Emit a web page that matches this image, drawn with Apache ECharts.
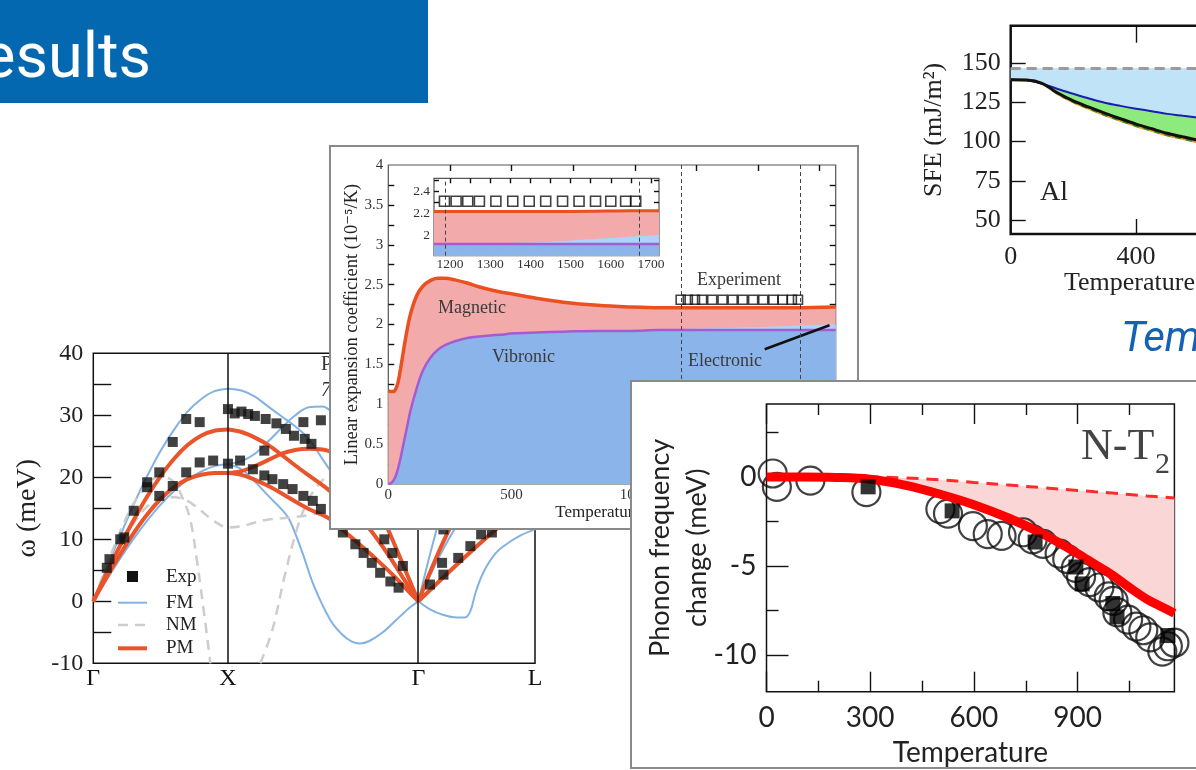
<!DOCTYPE html>
<html>
<head>
<meta charset="utf-8">
<title>Results</title>
<script src="https://cdn.jsdelivr.net/npm/echarts@6.0.0/dist/echarts.min.js"></script>
<style>
html, body { margin: 0; padding: 0; width: 1196px; height: 770px; overflow: hidden; background: #fff; }
.box { position: absolute; }
#bg { left: 0; top: 0; width: 1196px; height: 770px; z-index: 0; }
#sfe { left: 900px; top: 10px; width: 600px; height: 300px; z-index: 1; }
#disp { left: 0; top: 330px; width: 560px; height: 380px; z-index: 1; }
#alpha { left: 329px; top: 145px; width: 530px; height: 385px; z-index: 2; background: #fff; border: 2px solid #8a8a8a; box-sizing: border-box; }
#phon { left: 630px; top: 380px; width: 600px; height: 389px; z-index: 3; background: #fff; border: 2px solid #8a8a8a; box-sizing: border-box; }
</style>
</head>
<body>
<div id="bg" class="box"></div>
<div id="sfe" class="box"></div>
<div id="disp" class="box"></div>
<div id="alpha" class="box"></div>
<div id="phon" class="box"></div>
<script>
// ---------- SFE of Al (top right) ----------
var sfeT = [0, 50, 100, 150, 200, 250, 300, 350, 400, 450, 500, 550, 600, 650];
var sfeBlue = [139.5, 139.2, 137.0, 133.6, 130.5, 127.5, 124.8, 122.8, 121.0, 119.4, 117.7, 116.5, 115.3, 114.0];
var sfeBlack = [139.5, 139.3, 137.2, 131.0, 126.0, 122.0, 118.2, 114.6, 111.2, 108.2, 105.3, 103.0, 100.8, 98.8];
var sfeOrange = [139.5, 139.3, 137.0, 130.5, 125.2, 121.0, 117.0, 113.4, 110.0, 107.0, 104.1, 101.8, 99.6, 97.6];
var sfeRef = 147;
var sfeYTicks = [50, 75, 100, 125, 150];
var sfeXTicks = [400, 800];
var sfeXLabels = [0, 400, 800];

// ---------- phonon dispersion (left) ----------
var kTicks = [0, 1, 2.414, 3.28];
var kLabels = ['Γ', 'X', 'Γ', 'L'];
var dispYTicks = [-5, 0, 5, 10, 15, 20, 25, 30, 35];
var dispYLabels = [-10, 0, 10, 20, 30, 40];
var expGX = [[0.10, 5.4], [0.12, 6.8], [0.20, 10.0], [0.23, 10.3], [0.30, 14.6], [0.40, 19.2], [0.40, 18.4],
  [0.49, 20.8], [0.49, 17.0], [0.59, 25.7], [0.59, 18.6], [0.69, 29.4], [0.69, 20.8], [0.79, 28.9],
  [0.79, 22.4], [0.89, 22.7], [1.0, 31.0], [1.0, 22.2]];
var expXG = [[1.05, 30.3], [1.10, 30.6], [1.15, 30.2], [1.20, 29.9], [1.28, 29.4], [1.36, 28.7], [1.43, 27.8],
  [1.49, 26.7], [1.57, 26.2], [1.62, 25.4], [1.56, 28.9], [1.69, 29.2], [1.27, 24.3], [1.09, 22.7],
  [1.185, 21.3], [1.27, 20.3], [1.33, 19.7], [1.41, 18.9], [1.48, 18.1], [1.56, 17.0], [1.63, 16.2],
  [1.69, 14.9], [1.853, 11.1], [1.946, 9.2], [2.007, 7.8], [2.068, 6.2], [2.130, 4.6], [2.206, 3.2],
  [2.267, 2.2], [2.161, 10.0], [2.221, 7.8], [2.299, 5.7]];
var expGL = [[2.50, 2.7], [2.60, 4.3], [2.71, 7.0], [2.80, 8.9], [2.88, 10.8], [2.96, 11.1], [2.59, 6.2], [2.60, 11.6]];
var fmGX1 = [[0, 0], [0.1, 5.4], [0.2, 10.6], [0.3, 15.6], [0.4, 20.2], [0.5, 24.3], [0.6, 27.7], [0.7, 30.6], [0.8, 32.6], [0.9, 33.9], [1, 34.3]];
var fmGX2 = [[0, 0], [0.1, 3.5], [0.2, 6.9], [0.3, 10.1], [0.4, 13.0], [0.5, 15.6], [0.6, 17.8], [0.7, 19.6], [0.8, 20.9], [0.9, 21.8], [1, 22.1]];
var fmXG1 = [[1, 34.3], [1.1, 34.0], [1.2, 33.0], [1.3, 31.4], [1.4, 29.8], [1.5, 28.2], [1.6, 26.2], [1.7, 23.0], [1.8, 19.8], [1.9, 16.6], [2.0, 13.5], [2.1, 10.3], [2.2, 7.0], [2.3, 3.6], [2.414, 0]];
var fmXG2 = [[1, 22.1], [1.1, 22.6], [1.2, 23.8], [1.3, 25.8], [1.4, 28.0], [1.5, 30.0], [1.6, 31.3], [1.7, 31.4], [1.8, 29.8], [1.9, 26.4], [2.0, 21.8], [2.1, 16.6], [2.2, 11.2], [2.3, 5.6], [2.414, 0]];
var fmXG3 = [[1, 22.1], [1.1, 21.3], [1.2, 19.3], [1.3, 17.0], [1.4, 14.8], [1.46, 13.0], [1.55, 8.0], [1.64, 2.4], [1.76, -3.0], [1.85, -5.4], [1.92, -6.5], [1.98, -6.8], [2.05, -6.4], [2.15, -5.0], [2.25, -3.0], [2.35, -1.0], [2.414, 0]];
var fmGL1 = [[2.414, 0], [2.5, -1.3], [2.6, -2.2], [2.7, -2.6], [2.76, -2.6], [2.8, -1.6], [2.84, 1.5], [2.9, 4.8], [2.99, 7.8], [3.08, 9.4], [3.17, 10.6], [3.28, 11.6]];
var fmGL2 = [[2.414, 0], [2.56, 6.8], [2.7, 12.2], [2.9, 17.8], [3.1, 21.0], [3.28, 22.0]];
var fmGL3 = [[2.414, 0], [2.53, 10.0], [2.65, 19.0], [2.85, 27.0], [3.05, 31.0], [3.28, 32.5]];
var pmGX1 = [[0, 0], [0.1, 4.6], [0.2, 9.0], [0.3, 13.1], [0.4, 16.9], [0.5, 20.2], [0.6, 23.0], [0.7, 25.2], [0.8, 26.7], [0.9, 27.5], [1, 27.7]];
var pmGX2 = [[0, 0], [0.1, 3.9], [0.2, 7.6], [0.3, 11.0], [0.4, 14.0], [0.5, 16.5], [0.6, 18.4], [0.7, 19.7], [0.8, 20.4], [0.9, 20.7], [1, 20.7]];
var pmXG1 = [[1, 27.7], [1.1, 27.3], [1.2, 26.4], [1.3, 25.2], [1.4, 23.6], [1.5, 21.9], [1.6, 20.3], [1.74, 18.1], [1.9, 15.2], [2.0, 13.0], [2.1, 10.3], [2.2, 7.2], [2.3, 3.8], [2.414, 0]];
var pmXG2 = [[1, 20.7], [1.1, 21.0], [1.2, 21.8], [1.3, 22.8], [1.4, 23.8], [1.5, 24.4], [1.6, 24.6], [1.74, 24.3], [1.85, 23.0], [1.95, 21.0], [2.05, 18.0], [2.15, 13.5], [2.25, 8.5], [2.35, 3.3], [2.414, 0]];
var pmXG3 = [[1, 20.7], [1.1, 20.4], [1.2, 19.6], [1.3, 18.6], [1.4, 17.4], [1.5, 16.1], [1.6, 14.9], [1.74, 13.5], [1.85, 11.5], [1.95, 9.7], [2.05, 7.8], [2.15, 5.8], [2.25, 3.7], [2.35, 1.4], [2.414, 0]];
var pmGL1 = [[2.414, 0], [2.68, 13.2], [2.9, 20.0], [3.1, 24.0], [3.28, 25.0]];
var pmGL2 = [[2.414, 0], [2.99, 11.6], [3.28, 16.0]];
var nm1 = [[0, 0], [0.1, 5.8], [0.2, 11.3], [0.3, 15.8], [0.4, 18.8], [0.5, 20.2], [0.6, 19.2], [0.66, 16.8], [0.72, 13.2], [0.77, 6.5], [0.82, -1.5], [0.87, -10]];
var nm2 = [[0, 0], [0.1, 4.6], [0.2, 9.0], [0.3, 12.6], [0.4, 15.3], [0.5, 16.7], [0.6, 16.8], [0.7, 16.2], [0.8, 14.6], [0.9, 12.9], [1, 11.9], [1.1, 12.1], [1.2, 12.7], [1.3, 13.2], [1.4, 13.4], [1.5, 13.6], [1.6, 13.9], [1.75, 14.5], [1.85, 15.0]];
var nm3 = [[1.24, -10], [1.33, -4.6], [1.42, 4.0], [1.52, 12.2], [1.6, 16.5], [1.7, 19.5], [1.8, 21.0]];

// ---------- linear expansion coefficient (middle) ----------
var alphaT = [0, 10, 20, 30, 40, 50, 60, 75, 90, 115, 140, 170, 200, 230, 270, 320, 370, 450, 510, 600, 710, 850, 980, 1100, 1200, 1350, 1500, 1650, 1815];
var alphaTotal = [1.17, 1.16, 1.16, 1.19, 1.28, 1.45, 1.64, 1.91, 2.13, 2.36, 2.48, 2.55, 2.58, 2.58, 2.56, 2.52, 2.47, 2.41, 2.38, 2.33, 2.28, 2.24, 2.22, 2.21, 2.21, 2.21, 2.21, 2.21, 2.22];
var alphaVib = [0, 0.01, 0.04, 0.10, 0.20, 0.33, 0.48, 0.70, 0.92, 1.20, 1.42, 1.58, 1.68, 1.74, 1.79, 1.83, 1.85, 1.87, 1.89, 1.90, 1.91, 1.92, 1.92, 1.93, 1.93, 1.93, 1.93, 1.93, 1.93];
var alphaVibEl = [0, 0.01, 0.04, 0.10, 0.20, 0.33, 0.48, 0.70, 0.92, 1.20, 1.42, 1.58, 1.68, 1.74, 1.79, 1.83, 1.85, 1.87, 1.89, 1.90, 1.91, 1.92, 1.92, 1.935, 1.945, 1.955, 1.97, 1.985, 2.0];
var insetT = [1160, 1250, 1350, 1450, 1550, 1650, 1720];
var insetTotal = [2.215, 2.215, 2.215, 2.215, 2.218, 2.222, 2.222];
var insetVib = [1.917, 1.917, 1.917, 1.917, 1.917, 1.917, 1.917];
var insetVibEl = [1.917, 1.917, 1.925, 1.94, 1.96, 1.985, 2.0];
var expT = [1186, 1215, 1244, 1273, 1314, 1356, 1397, 1438, 1480, 1521, 1562, 1600, 1637, 1662];
var expAlpha = [2.31, 2.31, 2.31, 2.31, 2.31, 2.31, 2.31, 2.31, 2.31, 2.31, 2.31, 2.31, 2.31, 2.31];
var expRange = [1188, 1672];
var electronicPointer = [[1527, 1.69], [1790, 1.99]];
var alphaXTicks = [250, 500, 750, 1000, 1250, 1500, 1750];
var alphaXLabels = [0, 500, 1000, 1500];
var alphaYTicks = [0.25, 0.5, 0.75, 1, 1.25, 1.5, 1.75, 2, 2.25, 2.5, 2.75, 3, 3.25, 3.5, 3.75];
var alphaYLabels = [0, 0.5, 1, 1.5, 2, 2.5, 3, 3.5, 4];
var insetXTicks = [1200, 1250, 1300, 1350, 1400, 1450, 1500, 1550, 1600, 1650, 1700];
var insetXLabels = [1200, 1300, 1400, 1500, 1600, 1700];
var insetYTicks = [1.9, 2.0, 2.1, 2.2, 2.3, 2.4, 2.5];
var insetYLabels = [2, 2.2, 2.4];

// ---------- phonon frequency change (bottom right) ----------
var phonT = [0, 100, 200, 300, 400, 500, 600, 700, 800, 900, 950, 1000, 1050, 1100, 1150, 1180];
var phonSolid = [0, 0, -0.02, -0.12, -0.45, -0.95, -1.55, -2.3, -3.2, -4.3, -4.9, -5.5, -6.2, -6.85, -7.35, -7.65];
var phonDashed = [0, 0, 0, 0, -0.05, -0.15, -0.3, -0.45, -0.6, -0.75, -0.83, -0.9, -0.98, -1.06, -1.13, -1.18];
var phonCircles = [[18, 0.2], [30, -0.55], [127, -0.2], [289, -0.85], [503, -1.8], [525, -2.05], [597, -2.75],
  [640, -3.2], [680, -3.3], [742, -3.1], [770, -3.5], [800, -3.75], [848, -4.3], [870, -4.6], [895, -5.1],
  [910, -5.6], [935, -5.9], [963, -6.2], [990, -6.7], [1004, -6.95], [1015, -7.6], [1046, -8.0], [1070, -8.4],
  [1090, -8.6], [1110, -9.0], [1145, -9.8], [1161, -9.5], [1180, -9.3]];
var phonSquares = [[294, -0.55], [537, -1.9], [777, -3.65], [895, -5.05], [913, -6.0], [1002, -7.1], [1014, -7.85], [1161, -8.9]];
var phonXMajor = [0, 300, 600, 900];
var phonXMinor = [150, 450, 750, 1050];
var phonYMajor = [-10, -5, 0];
var phonYMinor = [-7.5, -2.5, 2.5];

// ---------- helpers ----------
var SERIF = '"Liberation Serif", "DejaVu Serif", serif';
var SANS = 'Lato, "Open Sans", sans-serif';

function zip(xs, ys) {
  return xs.map(function (x, i) { return [x, ys[i]]; });
}
function plain(v) { return String(v); }

function tickAxis(gi, pos, min, max, ticks, len, labels, labelStyle, extra) {
  var ax = {
    type: 'value', gridIndex: gi, position: pos, min: min, max: max,
    nameMoveOverlap: false,
    splitLine: {show: false},
    axisLine: {show: false, onZero: false},
    axisPointer: {show: false},
    axisTick: {show: ticks.length > 0, inside: true, length: len, customValues: ticks,
      lineStyle: {color: '#111', width: 1.4}},
    axisLabel: labels ? Object.assign({show: true, customValues: labels, formatter: plain}, labelStyle) : {show: false}
  };
  return Object.assign(ax, extra || {});
}

function curve(name, data, color, width, dash, xi, yi) {
  return {
    type: 'line', name: name, data: data, xAxisIndex: xi || 0, yAxisIndex: yi || 0,
    symbol: 'none', smooth: 0.35, lineStyle: {color: color, width: width, type: dash || 'solid'},
    itemStyle: {color: color}, emphasis: {disabled: true}, z: 3
  };
}

function area(data, color, xi, yi) {
  return {
    type: 'line', data: data, xAxisIndex: xi, yAxisIndex: yi, symbol: 'none', smooth: 0.35,
    lineStyle: {width: 0}, areaStyle: {color: color, opacity: 1, origin: 'start'}, emphasis: {disabled: true}, z: 2
  };
}

// shaded region between two curves sampled at the same x values
function fillBetween(xs, upper, lower, color) {
  return {
    type: 'custom', silent: true, z: 1, clip: true, data: [[xs[0], upper[0]]],
    renderItem: function (params, api) {
      var pts = [], i;
      for (i = 0; i < xs.length; i++) pts.push(api.coord([xs[i], upper[i]]));
      for (i = xs.length - 1; i >= 0; i--) pts.push(api.coord([xs[i], lower[i]]));
      return {type: 'polygon', shape: {points: pts}, style: {fill: color}};
    }
  };
}

function label(x, y, text, font, color) {
  return {type: 'text', x: x, y: y, z: 100, silent: true,
    style: {text: text, font: font, fill: color || '#222', verticalAlign: 'middle'}};
}

// ---------- slide background ----------
var bg = echarts.init(document.getElementById('bg'));
bg.setOption({
  animation: false,
  graphic: [
    {type: 'rect', shape: {x: 0, y: 0, width: 428, height: 103}, style: {fill: '#0468b1'}},
    label(-18, 61, 'esults', '400 63px Roboto', '#fff'),
    label(1121, 340, 'Temperature', 'italic 42px Roboto', '#1462b4')
  ]
});

// ---------- SFE chart ----------
var sfe = echarts.init(document.getElementById('sfe'));
var sfeLbl = {fontFamily: SERIF, fontSize: 26, color: '#222'};
var sfeLine = curve('black', zip(sfeT, sfeBlack), '#111', 3);
sfeLine.markLine = {
  symbol: 'none', silent: true, label: {show: false},
  lineStyle: {color: '#9a9a9a', width: 3, type: [10, 6]},
  data: [{yAxis: sfeRef}]
};
sfe.setOption({
  animation: false,
  grid: {left: 110.7, top: 15.7, width: 376, height: 208.3, show: true, borderColor: '#111', borderWidth: 2.5, outerBoundsMode: 'none'},
  xAxis: [
    tickAxis(0, 'bottom', 0, 1200, sfeXTicks, 15, sfeXLabels, Object.assign({margin: 10}, sfeLbl)),
    tickAxis(0, 'top', 0, 1200, sfeXTicks, 17, null)
  ],
  yAxis: tickAxis(0, 'left', 41, 174, sfeYTicks, 15, sfeYTicks, Object.assign({margin: 10}, sfeLbl), {
    name: 'SFE (mJ/m²)', nameLocation: 'middle', nameGap: 64,
    nameTextStyle: {fontFamily: SERIF, fontSize: 26, color: '#222'}
  }),
  graphic: [
    label(140, 183, 'Al', '28px ' + SERIF),
    label(164, 273, 'Temperature (K)', '26px ' + SERIF)
  ],
  series: [
    fillBetween(sfeT, sfeT.map(function () { return sfeRef; }), sfeBlue, '#c0e3f8'),
    fillBetween(sfeT, sfeBlue, sfeBlack, '#8eea7c'),
    curve('orange', zip(sfeT, sfeOrange), '#e9a21f', 2.5),
    curve('green', zip(sfeT, sfeOrange), '#2f8f2f', 2, [6, 5]),
    curve('blue', zip(sfeT, sfeBlue), '#1b1bb8', 2),
    sfeLine
  ]
});

// ---------- dispersion chart ----------
var disp = echarts.init(document.getElementById('disp'));
var FM_C = '#82b2e4', NM_C = '#cdcdcd', PM_C = '#e9542b';
var dispSeries = [];
[fmGX1, fmGX2, fmXG1, fmXG2, fmXG3, fmGL1, fmGL2, fmGL3].forEach(function (d) {
  dispSeries.push(curve('FM', d, FM_C, 2));
});
[nm1, nm2, nm3].forEach(function (d) {
  dispSeries.push(curve('NM', d, NM_C, 2.5, [10, 7]));
});
[pmGX1, pmGX2, pmXG1, pmXG2, pmXG3, pmGL1, pmGL2].forEach(function (d) {
  dispSeries.push(curve('PM', d, PM_C, 4));
});
dispSeries.push({
  type: 'scatter', name: 'Exp', data: expGX.concat(expXG, expGL), symbol: 'rect', symbolSize: 10,
  itemStyle: {color: '#111'}, z: 5, emphasis: {disabled: true}
});
dispSeries[0].markLine = {
  symbol: 'none', silent: true, label: {show: false},
  lineStyle: {color: '#111', width: 1.5, type: 'solid'},
  data: [{xAxis: kTicks[1]}, {xAxis: kTicks[2]}]
};
var legFont = '19px ' + SERIF;
disp.setOption({
  animation: false,
  grid: {left: 93.3, top: 23.3, width: 441.7, height: 310, show: true, borderColor: '#111', borderWidth: 1.5, outerBoundsMode: 'none'},
  xAxis: tickAxis(0, 'bottom', 0, 3.28, [], 0, kTicks, {
    fontFamily: SERIF, fontSize: 24, color: '#111', margin: 3,
    formatter: function (v) { return kLabels[kTicks.indexOf(v)]; }
  }),
  yAxis: tickAxis(0, 'left', -10, 40, dispYTicks, 18, dispYLabels, {fontFamily: SERIF, fontSize: 24, color: '#222', margin: 10}, {
    name: 'ω (meV)', nameLocation: 'middle', nameGap: 52,
    nameTextStyle: {fontFamily: SERIF, fontSize: 28, color: '#222'}
  }),
  graphic: [
    {type: 'rect', z: 100, shape: {x: 127, y: 241, width: 11, height: 11}, style: {fill: '#111'}},
    {type: 'line', z: 100, shape: {x1: 118, y1: 272.7, x2: 147, y2: 272.7}, style: {stroke: FM_C, lineWidth: 2}},
    {type: 'line', z: 100, shape: {x1: 118, y1: 295, x2: 147, y2: 295}, style: {stroke: NM_C, lineWidth: 2.5, lineDash: [10, 7]}},
    {type: 'line', z: 100, shape: {x1: 118, y1: 318.3, x2: 147, y2: 318.3}, style: {stroke: PM_C, lineWidth: 4}},
    label(166, 247, 'Exp', legFont),
    label(166, 273, 'FM', legFont),
    label(166, 295.5, 'NM', legFont),
    label(166, 318.5, 'PM', legFont),
    label(321, 35, 'P', '20px ' + SERIF, '#333'),
    label(321, 61, '7', 'italic 20px ' + SERIF, '#333')
  ],
  series: dispSeries
});

// ---------- linear expansion chart ----------
var alpha = echarts.init(document.getElementById('alpha'));
var axLbl = {fontFamily: SERIF, fontSize: 15, color: '#333'};
var inLbl = {fontFamily: SERIF, fontSize: 13.5, color: '#333'};
var vibLine = curve('vib', zip(alphaT, alphaVib), '#a45cd2', 2.5, null, 0, 0);
vibLine.markLine = {
  symbol: 'none', silent: true, label: {show: false},
  lineStyle: {color: '#111', width: 2.5, type: 'solid'},
  data: [[{coord: electronicPointer[0]}, {coord: electronicPointer[1]}]]
};
var totLine = curve('tot', zip(alphaT, alphaTotal), '#ea5020', 3.5, null, 0, 0);
totLine.markLine = {
  symbol: 'none', silent: true, label: {show: false},
  lineStyle: {color: '#444', width: 1, type: [4, 3]},
  data: [{xAxis: expRange[0]}, {xAxis: expRange[1]}]
};
var totInset = curve('totIn', zip(insetT, insetTotal), '#ea5020', 3, null, 2, 2);
totInset.markLine = {
  symbol: 'none', silent: true, label: {show: false},
  lineStyle: {color: '#444', width: 1, type: [4, 3]},
  data: [{xAxis: expRange[0]}, {xAxis: expRange[1]}]
};
var expStyle = {color: 'rgba(0,0,0,0)', borderColor: '#111', borderWidth: 1.6};
var noteFont = '18px ' + SERIF;
alpha.setOption({
  animation: false,
  grid: [
    {left: 57.3, top: 18, width: 447.4, height: 319, show: true, borderColor: '#555', borderWidth: 1.2, outerBoundsMode: 'none'},
    {left: 103, top: 31.3, width: 225, height: 77.4, show: true, backgroundColor: '#fff', borderColor: '#555', borderWidth: 1.2, outerBoundsMode: 'none'}
  ],
  xAxis: [
    tickAxis(0, 'bottom', 0, 1815, alphaXTicks, 6, alphaXLabels, Object.assign({margin: 4}, axLbl), {
      name: 'Temperature (K)', nameLocation: 'middle', nameGap: 20,
      nameTextStyle: {fontFamily: SERIF, fontSize: 17, color: '#222'}
    }),
    tickAxis(0, 'top', 0, 1815, alphaXTicks, 6, null),
    tickAxis(1, 'bottom', 1160, 1720, insetXTicks, 5, insetXLabels, Object.assign({margin: 2}, inLbl)),
    tickAxis(1, 'top', 1160, 1720, insetXTicks, 5, null)
  ],
  yAxis: [
    tickAxis(0, 'left', 0, 4, alphaYTicks, 6, alphaYLabels, Object.assign({margin: 5}, axLbl), {
      name: 'Linear expansion coefficient (10⁻⁵/K)', nameLocation: 'middle', nameGap: 27,
      nameTextStyle: {fontFamily: SERIF, fontSize: 18.5, color: '#222'}
    }),
    tickAxis(0, 'right', 0, 4, alphaYTicks, 6, null),
    tickAxis(1, 'left', 1.81, 2.52, insetYTicks, 5, insetYLabels, Object.assign({margin: 4}, inLbl)),
    tickAxis(1, 'right', 1.81, 2.52, insetYTicks, 5, null)
  ],
  graphic: [
    label(107, 161, 'Magnetic', noteFont, '#3a3a3a'),
    label(161, 210, 'Vibronic', noteFont, '#3a3a3a'),
    label(357, 214, 'Electronic', noteFont, '#3a3a3a'),
    label(366, 133, 'Experiment', noteFont, '#3a3a3a')
  ],
  series: [
    area(zip(alphaT, alphaTotal), '#f2aaaa', 0, 0),
    area(zip(alphaT, alphaVibEl), '#acd4f6', 0, 0),
    area(zip(alphaT, alphaVib), '#8ab4ea', 0, 0),
    vibLine,
    totLine,
    {type: 'scatter', data: zip(expT, expAlpha), xAxisIndex: 0, yAxisIndex: 0, symbol: 'rect', symbolSize: 9, itemStyle: expStyle, z: 5},
    area(zip(insetT, insetTotal), '#f2aaaa', 2, 2),
    area(zip(insetT, insetVibEl), '#acd4f6', 2, 2),
    area(zip(insetT, insetVib), '#8ab4ea', 2, 2),
    curve('vibIn', zip(insetT, insetVib), '#a45cd2', 2.5, null, 2, 2),
    totInset,
    {type: 'scatter', data: zip(expT, expAlpha), xAxisIndex: 2, yAxisIndex: 2, symbol: 'rect', symbolSize: 10, itemStyle: expStyle, z: 5}
  ]
});

// ---------- phonon frequency change chart ----------
var phon = echarts.init(document.getElementById('phon'));
var phLbl = {fontFamily: SANS, fontSize: 28, color: '#222'};
phon.setOption({
  animation: false,
  grid: {left: 134.5, top: 22, width: 407.9, height: 287.7, show: true, borderColor: '#111', borderWidth: 1.5, outerBoundsMode: 'none'},
  xAxis: [
    tickAxis(0, 'bottom', 0, 1180, phonXMajor, 20, phonXMajor, Object.assign({margin: 12}, phLbl), {
      name: 'Temperature', nameLocation: 'middle', nameGap: 47,
      nameTextStyle: {fontFamily: SANS, fontSize: 28, color: '#222'}
    }),
    tickAxis(0, 'bottom', 0, 1180, phonXMinor, 11, null),
    tickAxis(0, 'top', 0, 1180, phonXMajor, 20, null),
    tickAxis(0, 'top', 0, 1180, phonXMinor, 11, null)
  ],
  yAxis: [
    tickAxis(0, 'left', -12.05, 4.1, phonYMajor, 22, phonYMajor, Object.assign({margin: 10}, phLbl), {
      name: 'Phonon frequency\nchange (meV)', nameLocation: 'middle', nameGap: 51,
      nameTextStyle: {fontFamily: SANS, fontSize: 27, lineHeight: 37, color: '#222'}
    }),
    tickAxis(0, 'left', -12.05, 4.1, phonYMinor, 12, null)
  ],
  graphic: [
    label(449, 65, 'N-T', '44px ' + SERIF, '#444'),
    label(523, 83, '2', '30px ' + SERIF, '#444')
  ],
  series: [
    fillBetween(phonT, phonDashed, phonSolid, '#fbd6d6'),
    curve('dashed', zip(phonT, phonDashed), '#ff2a2a', 3, [12, 8]),
    {type: 'scatter', data: phonCircles, symbol: 'circle', symbolSize: 28, clip: false, z: 3,
      itemStyle: {color: 'rgba(0,0,0,0)', borderColor: '#111', borderWidth: 2.2}, emphasis: {disabled: true}},
    Object.assign(curve('solid', zip(phonT, phonSolid), '#ff0000', 9), {z: 4}),
    {type: 'scatter', data: phonSquares, symbol: 'rect', symbolSize: 15, clip: false, z: 5,
      itemStyle: {color: '#000'}, emphasis: {disabled: true}}
  ]
});
</script>
</body>
</html>
